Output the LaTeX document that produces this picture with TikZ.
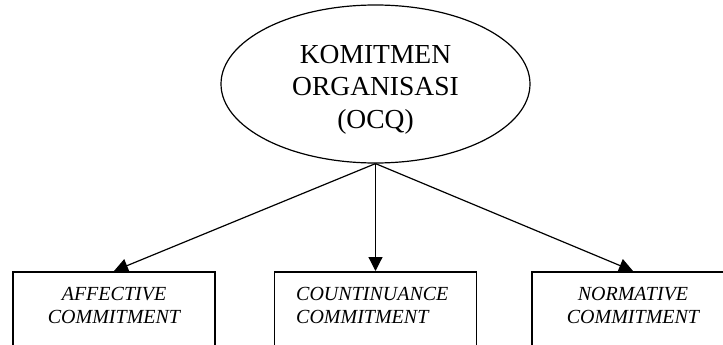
\documentclass[tikz,border=0pt]{standalone}
\usepackage{fontspec}
\setmainfont{Liberation Serif}
\usetikzlibrary{shapes.geometric,arrows.meta}
\begin{document}
\begin{tikzpicture}[x=1pt,y=-1pt,
  concept/.style={draw, ellipse, line width=1.2pt, minimum width=309pt,
    minimum height=158pt, inner sep=0pt},
  conceptlabel/.style={anchor=north, inner sep=0pt, align=center,
    font=\fontsize{27.5}{32.5}\selectfont},
  dimbox/.style={draw, rectangle, line width=1.6pt, minimum width=202pt,
    minimum height=110pt, anchor=north, inner sep=0pt},
  dimlabel/.style={inner sep=0pt, font=\fontsize{20}{23}\selectfont\itshape},
  link/.style={line width=1.2pt, -{Triangle[length=14pt,width=14pt]}},
]
\useasboundingbox (0,0) rectangle (723,345);
\clip (0,0) rectangle (723,345);

% central construct
\node[concept] (org) at (375.5,84) {};
\node[conceptlabel] (orgtxt) at (375.5,44.8) {KOMITMEN\\ORGANISASI\\(OCQ)};

% the three dimensions
\node[dimbox] (aff) at (114,271) {};
\node[dimbox] (con) at (375.5,271) {};
\node[dimbox] (nor) at (633,271) {};

\node[dimlabel, anchor=north, align=center] (afftxt) at (114,286.8) {AFFECTIVE\\COMMITMENT};
\node[dimlabel, anchor=north west, align=left] (contxt) at (296,286.8) {COUNTINUANCE\\COMMITMENT};
\node[dimlabel, anchor=north, align=center] (nortxt) at (633,286.8) {NORMATIVE\\COMMITMENT};

% connectors
\draw[link] (org.south) -- (aff.north);
\draw[link] (org.south) -- (con.north);
\draw[link] (org.south) -- (nor.north);
\end{tikzpicture}
\end{document}
